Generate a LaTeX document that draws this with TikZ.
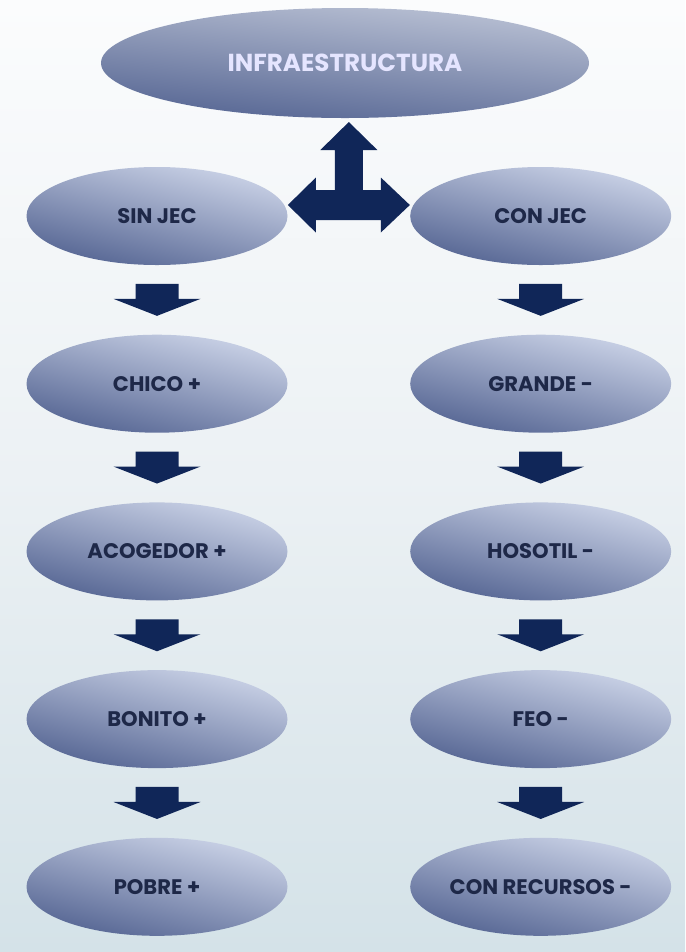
\documentclass[tikz,border=0pt]{standalone}
\usepackage{fontspec}
\setmainfont{Poppins}
\usetikzlibrary{positioning, calc, shapes.geometric}

\definecolor{bgtop}{RGB}{251,252,253}
\definecolor{bgmid}{RGB}{236,241,244}
\definecolor{bgbot}{RGB}{212,226,232}
\definecolor{ellight}{RGB}{204,212,232}
\definecolor{eldark}{RGB}{84,100,146}
\definecolor{navyfill}{RGB}{16,38,88}
\definecolor{navytext}{RGB}{30,40,72}

\tikzset{
    downblock/.pic={
        \fill[navyfill] (-0.43,0.32) -- (0.43,0.32) -- (0.43,0.02) -- (0.87,0.02)
            -- (0,-0.32) -- (-0.87,0.02) -- (-0.43,0.02) -- cycle;
    }
}

\begin{document}
\begin{tikzpicture}[node distance=1.38cm, >=stealth]
        \tikzstyle{item} = [ellipse, minimum width=5.22cm, minimum height=1.96cm, inner sep=0pt, top color=ellight, bottom color=eldark, shading angle=-14, text=navytext, font=\fontsize{12}{14}\selectfont\bfseries]
        \tikzstyle{head} = [ellipse, minimum width=9.76cm, minimum height=2.2cm, inner sep=0pt, top color=ellight!92!black, bottom color=eldark, shading angle=-6, text=white!90!blue, font=\fontsize{14}{16}\selectfont\bfseries]

        % background
        \fill[top color=bgtop, bottom color=bgbot, middle color=bgmid] (0,0) rectangle (13.7,-19.04);

        \node [head] (infra) at (6.9,-1.26) {INFRAESTRUCTURA};

        \node [item] (sinjec) at (3.14,-4.32) {SIN JEC};
        \node [item, right=2.44cm of sinjec] (conjec) {CON JEC};

        % left column
        \node [item, below=of sinjec] (chico) {CHICO +};
        \node [item, below=of chico] (acogedor) {ACOGEDOR +};
        \node [item, below=of acogedor] (bonito) {BONITO +};
        \node [item, below=of bonito] (pobre) {POBRE +};

        % right column
        \node [item, below=of conjec] (grande) {GRANDE -};
        \node [item, below=of grande] (hosotil) {HOSOTIL -};
        \node [item, below=of hosotil] (feo) {FEO -};
        \node [item, below=of feo] (conrec) {CON RECURSOS -};

        % three-way arrow
        \coordinate (hub) at ($(sinjec.east)!0.5!(conjec.west)+(0,0.22)$);
        \fill[navyfill] (hub) +(-1.22,0) -- +(-0.66,0.55) -- +(-0.66,0.3) -- +(-0.28,0.3)
            -- +(-0.28,1.1) -- +(-0.57,1.1) -- +(0,1.66) -- +(0.57,1.1) -- +(0.28,1.1)
            -- +(0.28,0.3) -- +(0.64,0.3) -- +(0.64,0.55) -- +(1.22,0) -- +(0.64,-0.55)
            -- +(0.64,-0.3) -- +(-0.66,-0.3) -- +(-0.66,-0.55) -- cycle;

        % block arrows
        \pic at ($(sinjec.south)!0.5!(chico.north)$) {downblock};
        \pic at ($(chico.south)!0.5!(acogedor.north)$) {downblock};
        \pic at ($(acogedor.south)!0.5!(bonito.north)$) {downblock};
        \pic at ($(bonito.south)!0.5!(pobre.north)$) {downblock};
        \pic at ($(conjec.south)!0.5!(grande.north)$) {downblock};
        \pic at ($(grande.south)!0.5!(hosotil.north)$) {downblock};
        \pic at ($(hosotil.south)!0.5!(feo.north)$) {downblock};
        \pic at ($(feo.south)!0.5!(conrec.north)$) {downblock};
    \end{tikzpicture}
\end{document}
